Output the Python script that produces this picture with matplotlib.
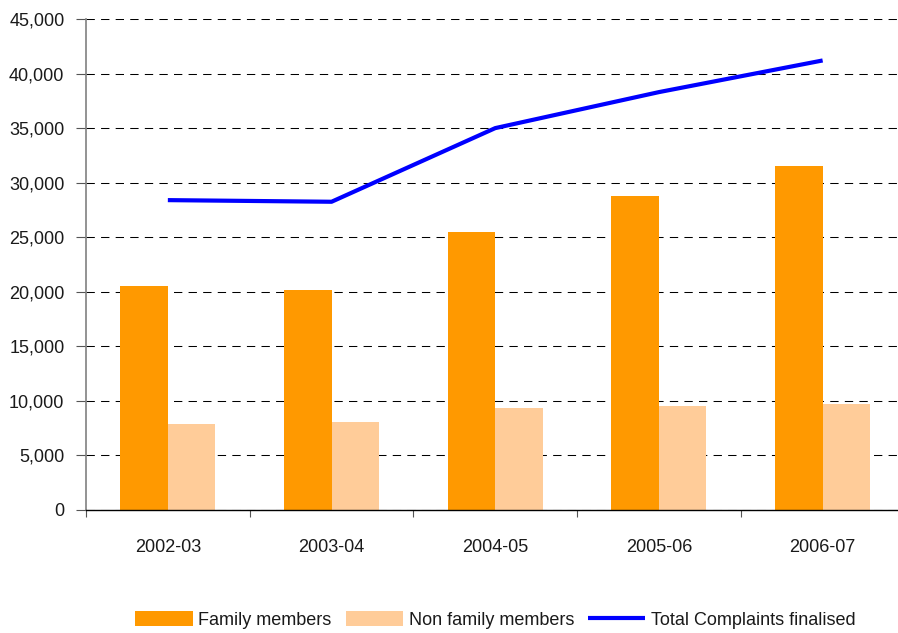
import matplotlib
matplotlib.use("Agg")
import matplotlib.pyplot as plt
import numpy as np
from matplotlib.ticker import FuncFormatter, FixedLocator

plt.rcParams['font.family'] = ['Liberation Sans', 'DejaVu Sans']

years = ["2002-03", "2003-04", "2004-05", "2005-06", "2006-07"]
family = [20550, 20200, 25500, 28800, 31550]
non_family = [7900, 8050, 9350, 9550, 9750]
total = [28400, 28250, 35000, 38300, 41200]

C_FAM = "#FF9900"
C_NON = "#FFCC99"
C_LINE = "#0000FF"
TXT = "#1a1a1a"

fig = plt.figure(figsize=(8.98, 6.33), dpi=100)
ax = fig.add_axes([86 / 898, 123 / 633, 818.5 / 898, 491 / 633])

x = np.arange(len(years))
w = 0.29
b1 = ax.bar(x - w / 2, family, width=w, color=C_FAM, label="Family members", zorder=2)
b2 = ax.bar(x + w / 2, non_family, width=w, color=C_NON, label="Non family members", zorder=2)
l1, = ax.plot(x, total, color=C_LINE, lw=3, label="Total Complaints finalised", zorder=3,
              solid_capstyle='butt')

ax.set_xlim(-0.5, len(years) - 0.5)
ax.set_ylim(0, 45000)
ax.set_yticks(np.arange(0, 45001, 5000))
ax.yaxis.set_major_formatter(FuncFormatter(lambda v, p: f"{int(v):,}"))
ax.grid(axis='y', color='black', linestyle=(0, (8, 6)), linewidth=0.75, zorder=1)
ax.set_axisbelow(True)

ax.xaxis.set_major_locator(FixedLocator(np.arange(-0.5, len(years), 1.0)))
ax.xaxis.set_major_formatter(FuncFormatter(lambda v, p: ""))
ax.xaxis.set_minor_locator(FixedLocator(x))
ax.set_xticklabels(years, minor=True)
ax.tick_params(axis='x', which='major', direction='out', length=5, color='#555555')
ax.tick_params(axis='x', which='minor', length=0, pad=21, labelsize=13, labelcolor=TXT)
ax.tick_params(axis='y', direction='out', length=7, pad=8.5, labelsize=13,
               labelcolor=TXT, color='#555555')

for s in ['top', 'right']:
    ax.spines[s].set_visible(False)
ax.spines['left'].set_color('#808080')
ax.spines['left'].set_linewidth(1.2)
ax.spines['bottom'].set_color('black')
ax.spines['bottom'].set_linewidth(1.0)

leg = fig.legend(handles=[b1, b2, l1], loc='center', bbox_to_anchor=(495.5 / 898, 13 / 633), ncol=3,
                 frameon=False, fontsize=13, handlelength=3.17, handleheight=0.94,
                 handletextpad=0.32, columnspacing=0.78, borderpad=0)
for t in leg.get_texts():
    t.set_color(TXT)

fig.savefig("out.png", dpi=100)
